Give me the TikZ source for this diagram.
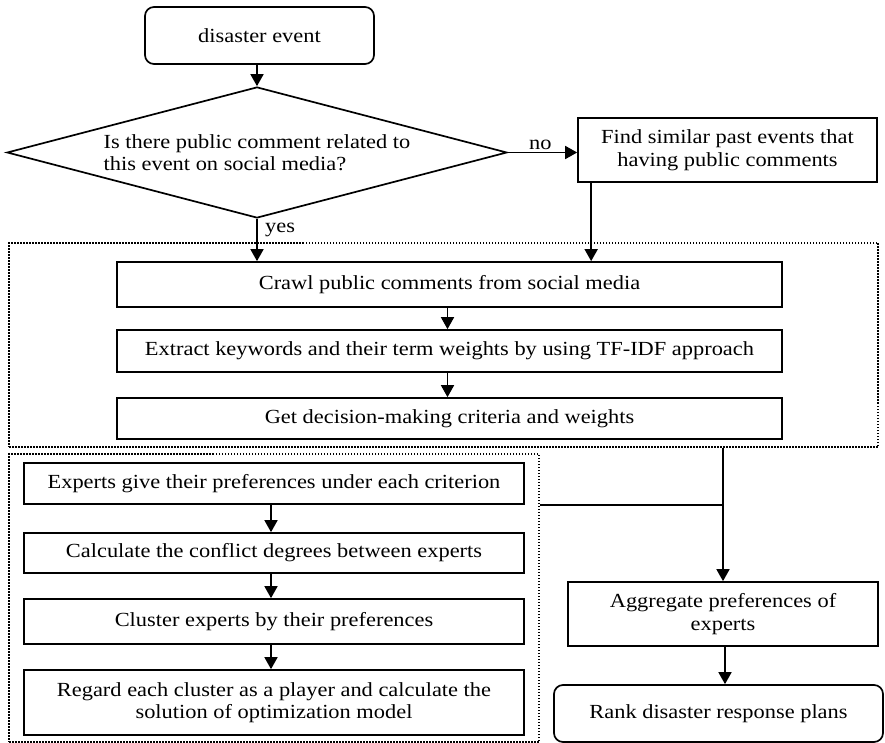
\documentclass[tikz,border=0pt]{standalone}
\usepackage{fontspec}
\setmainfont[FakeStretch=1.12]{Liberation Serif}
\usetikzlibrary{arrows.meta,shapes.geometric}
\begin{document}
\begin{tikzpicture}[x=1pt,y=-1pt,
  every node/.style={font=\fontsize{20}{22.5}\selectfont},
  box/.style={draw,line width=1.7pt,inner sep=0pt,align=center},
  rbox/.style={box,rounded corners=9pt},
  grp/.style={draw,line width=1.5pt,dash pattern=on 1.5pt off 1.5pt,inner sep=0pt},
  arr/.style={line width=1.7pt,-{Triangle[length=12pt,width=13pt]}},
  ln/.style={line width=1.7pt}]
\useasboundingbox (0,0) rectangle (885,743);
% groups
\node[grp,minimum width=869pt,minimum height=204pt] (g1) at (443.5,345) {};
\node[grp,minimum width=530pt,minimum height=288pt] (g2) at (274,598) {};
% top part
\node[rbox,minimum width=229pt,minimum height=57pt] (start) at (259.5,35.5) {disaster event};
\node[draw,line width=1.7pt,shape=diamond,aspect=3.82,inner sep=0pt,minimum width=500pt,minimum height=131pt,align=left] (dia) at (257,152.5) {Is there public comment related to\\ this event on social media?};
\node[box,minimum width=299pt,minimum height=64pt] (find) at (727.5,150) {Find similar past events that\\having public comments};
% upper group boxes
\node[box,minimum width=665pt,minimum height=45pt] (crawl) at (449.5,284.5) {Crawl public comments from social media};
\node[box,minimum width=665pt,minimum height=42pt] (extract) at (449.5,351) {Extract keywords and their term weights by using TF-IDF approach};
\node[box,minimum width=665pt,minimum height=41pt] (get) at (449.5,418.5) {Get decision-making criteria and weights};
% lower group boxes
\node[box,minimum width=500pt,minimum height=41pt] (exp) at (274,483.5) {Experts give their preferences under each criterion};
\node[box,minimum width=500pt,minimum height=40pt] (calc) at (274,553) {Calculate the conflict degrees between experts};
\node[box,minimum width=500pt,minimum height=45pt] (clus) at (274,621.5) {Cluster experts by their preferences};
\node[box,minimum width=500pt,minimum height=65pt] (reg) at (274,702.5) {Regard each cluster as a player and calculate the\\solution of optimization model};
% right bottom
\node[box,minimum width=310pt,minimum height=64pt] (agg) at (723,614) {Aggregate preferences of\\experts};
\node[rbox,minimum width=329pt,minimum height=57pt] (rank) at (718.5,713.5) {Rank disaster response plans};
\coordinate (j) at (723,505);
% connectors
\draw[arr] (start.south -| dia.north) -- (dia.north);
\draw[arr] (dia.east) -- node[above,pos=0.47,yshift=-1pt]{no} (dia.east -| find.west);
\draw[arr] (dia.south) -- node[right,pos=0.26,xshift=4pt]{yes} (dia.south |- crawl.north);
\draw[arr] ([xshift=14pt]find.south west) -- ([xshift=14pt]find.south west |- crawl.north);
\draw[arr] ([xshift=-2pt]crawl.south) -- ([xshift=-2pt]extract.north);
\draw[arr] ([xshift=-2pt]extract.south) -- ([xshift=-2pt]get.north);
\draw[arr] ([xshift=-3pt]exp.south) -- ([xshift=-3pt]calc.north);
\draw[arr] ([xshift=-3pt]calc.south) -- ([xshift=-3pt]clus.north);
\draw[arr] ([xshift=-3pt]clus.south) -- ([xshift=-3pt]reg.north);
\draw[arr] (agg.north |- g1.south) -- (agg.north);
\draw[ln] (g2.east |- j) -- (j);
\draw[arr] ([xshift=2pt]agg.south) -- ([xshift=2pt]agg.south |- rank.north);
\end{tikzpicture}
\end{document}
